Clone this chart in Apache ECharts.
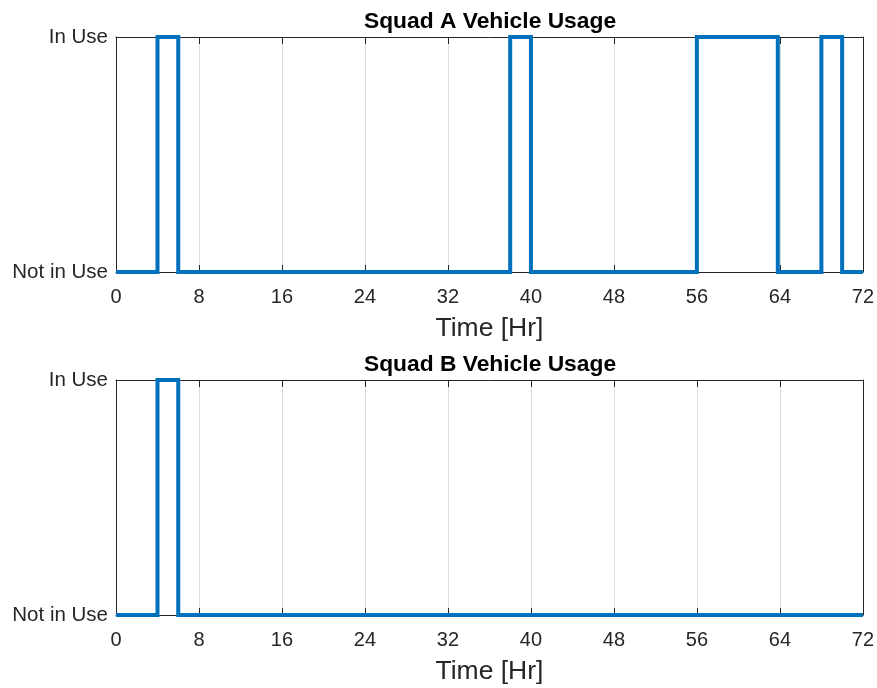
<!DOCTYPE html>
<html>
<head>
<meta charset="utf-8">
<script src="https://cdn.jsdelivr.net/npm/echarts@6/dist/echarts.min.js"></script>
<style>
  html, body { margin: 0; padding: 0; background: #fff; }
  #chart { width: 877px; height: 688px; }
</style>
</head>
<body>
<div id="chart"></div>
<script>
// state change times [Hr] and state (0 = Not in Use, 1 = In Use)
const hoursA = [0, 4, 6, 38, 40, 56, 63.8, 68, 70, 72]
const stateA = [0, 1, 0, 1, 0, 1, 0, 1, 0, 0]
const hoursB = [0, 4, 6, 72]
const stateB = [0, 1, 0, 0]
const stateLabels = ['Not in Use', 'In Use']
const titles = ['Squad A Vehicle Usage', 'Squad B Vehicle Usage']
const xName = 'Time [Hr]'

const font = 'Liberation Sans, Arial, Helvetica, sans-serif'
const ink = '#262626'
const gridTops = [37, 380]

const chart = echarts.init(document.getElementById('chart'), null, { renderer: 'canvas' })

const xAxes = []
const yAxes = []
const grids = []
const series = []
const titleList = []

const sets = [[hoursA, stateA], [hoursB, stateB]]
sets.forEach(([hrs, st], i) => {
  grids.push({ left: 116, right: 13, top: gridTops[i], height: 235, containLabel: false })
  titleList.push({
    text: titles[i], left: 490, top: gridTops[i] - 26.5, textAlign: 'center', padding: 0,
    textStyle: { fontFamily: font, fontSize: 22.8, fontWeight: 'bold', color: '#000' }
  })
  // bottom x axis
  xAxes.push({
    type: 'value', gridIndex: i, min: 0, max: 72, interval: 8,
    name: xName, nameLocation: 'middle', nameGap: 43,
    nameTextStyle: { fontFamily: font, fontSize: 26.5, color: ink },
    axisLine: { show: true, onZero: false, lineStyle: { color: ink, width: 1 } },
    axisTick: { show: true, inside: true, length: 7, lineStyle: { color: ink } },
    axisLabel: { fontFamily: font, fontSize: 20, color: ink, margin: 15 },
    splitLine: { show: true, lineStyle: { color: '#dcdcdc', width: 1 } }
  })
  // top x axis (box edge)
  xAxes.push({
    type: 'value', gridIndex: i, min: 0, max: 72, interval: 8, position: 'top',
    axisLine: { show: true, onZero: false, lineStyle: { color: ink, width: 1 } },
    axisTick: { show: true, inside: true, length: 7, lineStyle: { color: ink } },
    axisLabel: { show: false },
    splitLine: { show: false }
  })
  yAxes.push({
    type: 'value', gridIndex: i, min: 0, max: 1, interval: 1,
    axisLine: { show: true, onZero: false, lineStyle: { color: ink, width: 1 } },
    axisTick: { show: true, inside: true, length: 7, lineStyle: { color: ink } },
    axisLabel: {
      fontFamily: font, fontSize: 20.5, color: ink, margin: 8, padding: [4, 0, 0, 0],
      formatter: v => stateLabels[v]
    },
    splitLine: { show: false }
  })
  yAxes.push({
    type: 'value', gridIndex: i, min: 0, max: 1, interval: 1, position: 'right',
    axisLine: { show: true, onZero: false, lineStyle: { color: ink, width: 1 } },
    axisTick: { show: false },
    axisLabel: { show: false },
    splitLine: { show: false }
  })
  series.push({
    type: 'line', step: 'end',
    xAxisIndex: i * 2, yAxisIndex: i * 2,
    data: hrs.map((h, k) => [h, st[k]]),
    showSymbol: false, clip: false,
    lineStyle: { color: '#0072BD', width: 4, join: 'miter' },
    z: 5
  })
})

chart.setOption({
  animation: false,
  backgroundColor: '#fff',
  title: titleList,
  grid: grids,
  xAxis: xAxes,
  yAxis: yAxes,
  series: series
})
</script>
</body>
</html>
